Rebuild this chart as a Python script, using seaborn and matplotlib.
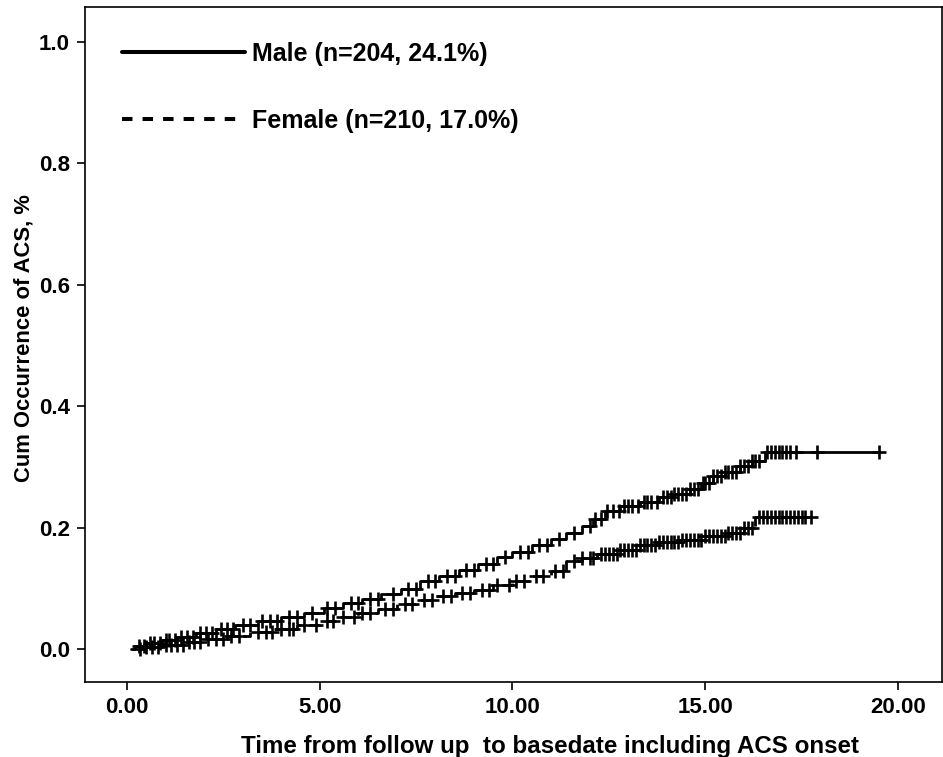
import matplotlib
matplotlib.use("agg")
import matplotlib.pyplot as plt
from matplotlib.lines import Line2D
import numpy as np
import pandas as pd
import seaborn as sns

# event times (years) and cumulative occurrence after each event
male_time = [0.1, 0.2, 0.5, 0.9, 1.3, 1.8, 2.3, 2.8, 3.4, 4.0, 4.6, 5.1, 5.6, 6.1, 6.6,
             7.1, 7.6, 8.1, 8.6, 9.1, 9.6, 10.0, 10.5, 11.0, 11.4, 11.8, 12.1, 12.4,
             12.8, 13.3, 13.8, 14.2, 14.6, 14.9, 15.2, 15.5, 15.9, 16.2, 16.55, 19.5]
male_cum = [0.0, 0.005, 0.010, 0.015, 0.020, 0.026, 0.033, 0.040, 0.047, 0.053, 0.060,
            0.067, 0.076, 0.083, 0.090, 0.099, 0.112, 0.120, 0.130, 0.140, 0.151, 0.160,
            0.172, 0.181, 0.192, 0.202, 0.214, 0.228, 0.236, 0.242, 0.250, 0.256, 0.263,
            0.273, 0.285, 0.292, 0.302, 0.309, 0.324, 0.324]

female_time = [0.3, 0.4, 0.9, 1.5, 2.0, 2.6, 3.2, 3.8, 4.4, 5.0, 5.5, 6.0, 6.5, 7.0, 7.5,
               8.0, 8.5, 9.0, 9.5, 10.0, 10.5, 11.0, 11.4, 11.8, 12.2, 12.8, 13.3, 13.8,
               14.4, 15.0, 15.6, 16.0, 16.3, 17.75]
female_cum = [0.0, 0.003, 0.007, 0.012, 0.017, 0.022, 0.028, 0.034, 0.040, 0.046, 0.053,
              0.060, 0.066, 0.074, 0.081, 0.087, 0.092, 0.098, 0.105, 0.112, 0.120, 0.128,
              0.145, 0.150, 0.157, 0.163, 0.172, 0.176, 0.180, 0.187, 0.191, 0.200, 0.217,
              0.217]

# censored observations
male_censor = [0.3, 0.45, 0.6, 0.7, 0.85, 1.0, 1.1, 1.25, 1.4, 1.55, 1.7, 1.9, 2.05, 2.2,
               2.45, 2.6, 2.75, 3.0, 3.2, 3.5, 3.7, 3.9, 4.2, 4.4, 4.8, 5.2, 5.4, 5.8, 6.0,
               6.3, 6.5, 6.9, 7.3, 7.5, 7.8, 8.0, 8.3, 8.5, 8.8, 9.0, 9.3, 9.5, 9.8, 10.2,
               10.4, 10.7, 10.9, 11.2, 11.6, 12.0, 12.15, 12.3, 12.45, 12.6, 12.75, 12.9,
               13.0, 13.1, 13.25, 13.4, 13.5, 13.6, 13.75, 13.9, 14.0, 14.1, 14.2, 14.3,
               14.4, 14.5, 14.6, 14.7, 14.8, 14.95, 15.0, 15.1, 15.2, 15.3, 15.4, 15.5,
               15.6, 15.7, 15.8, 15.9, 16.0, 16.1, 16.2, 16.3, 16.4, 16.6, 16.7, 16.8,
               16.9, 17.0, 17.1, 17.2, 17.35, 17.9, 19.5]
female_censor = [0.35, 0.5, 0.65, 0.8, 1.0, 1.15, 1.3, 1.45, 1.6, 1.75, 1.9, 2.1, 2.3, 2.5,
                 2.7, 2.9, 3.4, 3.6, 3.75, 4.0, 4.2, 4.3, 4.6, 4.9, 5.2, 5.35, 5.6, 5.9, 6.1,
                 6.3, 6.7, 6.9, 7.2, 7.4, 7.7, 7.9, 8.2, 8.4, 8.7, 8.9, 9.2, 9.4, 9.6, 9.9,
                 10.1, 10.3, 10.6, 10.8, 11.1, 11.3, 11.6, 11.8, 12.0, 12.1, 12.3, 12.4,
                 12.5, 12.6, 12.7, 12.8, 12.9, 13.0, 13.1, 13.2, 13.3, 13.4, 13.5, 13.6,
                 13.7, 13.8, 13.9, 14.0, 14.1, 14.2, 14.3, 14.4, 14.5, 14.6, 14.7, 14.8,
                 14.9, 15.0, 15.1, 15.2, 15.3, 15.4, 15.5, 15.6, 15.7, 15.8, 15.9, 16.0,
                 16.1, 16.2, 16.4, 16.5, 16.6, 16.7, 16.8, 16.9, 17.0, 17.1, 17.2, 17.3,
                 17.4, 17.5, 17.6, 17.75]

labels = ["Male (n=204, 24.1%)", "Female (n=210, 17.0%)"]
x_ticks = [0, 5, 10, 15, 20]
y_ticks = [0.0, 0.2, 0.4, 0.6, 0.8, 1.0]


def censor_points(times, cum, censor):
    t = np.array(times)
    c = np.array(cum)
    idx = np.searchsorted(t, censor, side="right") - 1
    return pd.DataFrame({"t": censor, "y": c[idx]})


sns.set_style("ticks")
plt.rcParams["font.family"] = ["Liberation Sans", "DejaVu Sans"]
for key in ["text.color", "axes.labelcolor", "xtick.color", "ytick.color"]:
    plt.rcParams[key] = "black"

fig = plt.figure(figsize=(9.43, 7.57), dpi=100)
ax = fig.add_axes([0.0901, 0.0991, 0.9088, 0.8917])

male_df = pd.DataFrame({"t": male_time, "y": male_cum})
female_df = pd.DataFrame({"t": female_time, "y": female_cum})

sns.lineplot(data=male_df, x="t", y="y", ax=ax, color="black", lw=2.0,
             drawstyle="steps-post", estimator=None, sort=False)
sns.lineplot(data=female_df, x="t", y="y", ax=ax, color="black", lw=2.0,
             drawstyle="steps-post", estimator=None, sort=False, linestyle=(0, (4, 3)))

for times, cum, cens in [(male_time, male_cum, male_censor),
                         (female_time, female_cum, female_censor)]:
    sns.scatterplot(data=censor_points(times, cum, cens), x="t", y="y", ax=ax,
                    marker="+", s=90, color="black", linewidth=1.9, zorder=3)

ax.set_xlim(-1.09, 21.14)
ax.set_ylim(-0.054, 1.057)
ax.set_xticks(x_ticks)
ax.set_yticks(y_ticks)
ax.set_xticklabels(["%.2f" % v for v in x_ticks], weight="bold", fontsize=16)
ax.set_yticklabels(["%.1f" % v for v in y_ticks], weight="bold", fontsize=16)
ax.tick_params(direction="out", length=6, width=1.2, color="black", pad=5)
for sp in ax.spines.values():
    sp.set_visible(True)
    sp.set_linewidth(1.2)
    sp.set_color("black")

ax.set_xlabel("Time from follow up  to basedate including ACS onset",
              weight="bold", fontsize=17.4)
ax.set_ylabel("Cum Occurrence of ACS, %", weight="bold", fontsize=15.8)
ax.xaxis.set_label_coords((550 - 85) / 857, -0.095)
ax.yaxis.set_label_coords(-0.071, 0.51)
ax.xaxis.label.set_va("center")
ax.yaxis.label.set_va("center")

handles = [Line2D([], [], color="black", lw=2.9),
           Line2D([], [], color="black", lw=2.9, linestyle=(0, (2.6, 2.5)))]
fig.legend(handles, labels, loc="upper left", bbox_to_anchor=(122 / 943, 1 - 42 / 757),
           frameon=False, prop={"weight": "bold", "size": 18}, handlelength=4.92,
           handletextpad=0.28, labelspacing=1.72, borderpad=0, borderaxespad=0)

fig.savefig("out.png", dpi=100)
